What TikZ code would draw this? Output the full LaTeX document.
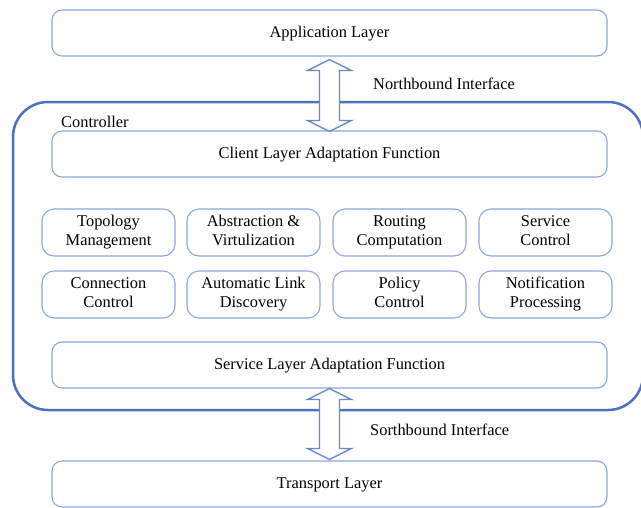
\documentclass[tikz,border=0pt]{standalone}
\usepackage{fontspec}
\setmainfont{Liberation Serif}
\usetikzlibrary{calc}
\definecolor{ctrlblue}{HTML}{4C70BD}
\definecolor{boxblue}{HTML}{8EA6D8}
\definecolor{arrowblue}{HTML}{6A88C8}

% hollow two-headed arrow between two points
\newcommand\dblarrow[2]{%
  \draw[fatarrow] let \p1=(#1), \p2=(#2) in
    (\x1,\y1) -- (\x1+22pt,\y1-11pt) -- (\x1+10pt,\y1-11pt)
    -- (\x1+10pt,\y2+11pt) -- (\x1+22pt,\y2+11pt) -- (\x1,\y2)
    -- (\x1-22pt,\y2+11pt) -- (\x1-10pt,\y2+11pt)
    -- (\x1-10pt,\y1-11pt) -- (\x1-22pt,\y1-11pt) -- cycle;}

\begin{document}
\begin{tikzpicture}[x=1pt,y=-1pt,
  every node/.style={font=\fontsize{16.4}{19}\selectfont},
  layer/.style={draw=boxblue, line width=1.1pt, rounded corners=10pt,
    minimum width=555pt, minimum height=46pt, inner sep=0pt,
    text height=11pt, text depth=3pt},
  func/.style={draw=boxblue, line width=1.1pt, rounded corners=12pt,
    minimum width=133pt, minimum height=47pt, align=center, inner sep=0pt,
    text height=30pt, text depth=4pt},
  ctrlbox/.style={draw=ctrlblue, line width=2.5pt, rounded corners=35pt,
    minimum width=630pt, minimum height=308pt, inner sep=0pt},
  fatarrow/.style={draw=arrowblue, fill=white, line width=1.3pt, line join=miter},
  lbl/.style={anchor=west, inner sep=0pt}]

\useasboundingbox (0,0) rectangle (641,507);

% controller frame
\node[ctrlbox] (ctrl) at (328,256) {};
\node[lbl] (ctrllbl) at (61,122) {Controller};

% layers
\node[layer] (app) at (329.5,33) {Application Layer};
\node[layer] (client) at (329.5,154) {Client Layer Adaptation Function};
\node[layer] (service) at (329.5,365) {Service Layer Adaptation Function};
\node[layer] (transport) at (329.5,484) {Transport Layer};

% controller functions
\node[func] (topo)     at (108.5,232.5) {Topology\\Management};
\node[func] (abstr)    at (253.5,232.5) {Abstraction \&\\Virtulization};
\node[func] (routing)  at (399.5,232.5) {Routing\\Computation};
\node[func] (svcctl)   at (545.5,232.5) {Service\\Control};
\node[func] (conn)     at (108.5,294.5) {Connection\\Control};
\node[func] (autolink) at (253.5,294.5) {Automatic Link\\Discovery};
\node[func] (policy)   at (399.5,294.5) {Policy\\Control};
\node[func] (notif)    at (545.5,294.5) {Notification\\Processing};

% interfaces
\dblarrow{$(app.south)+(0,3)$}{$(client.north)+(0,1)$}
\dblarrow{$(service.south)+(0,0)$}{$(transport.north)+(0,-1)$}
\node[lbl] (nbi) at (373,84) {Northbound Interface};
\node[lbl] (sbi) at (370,430) {Sorthbound Interface};
\end{tikzpicture}
\end{document}
